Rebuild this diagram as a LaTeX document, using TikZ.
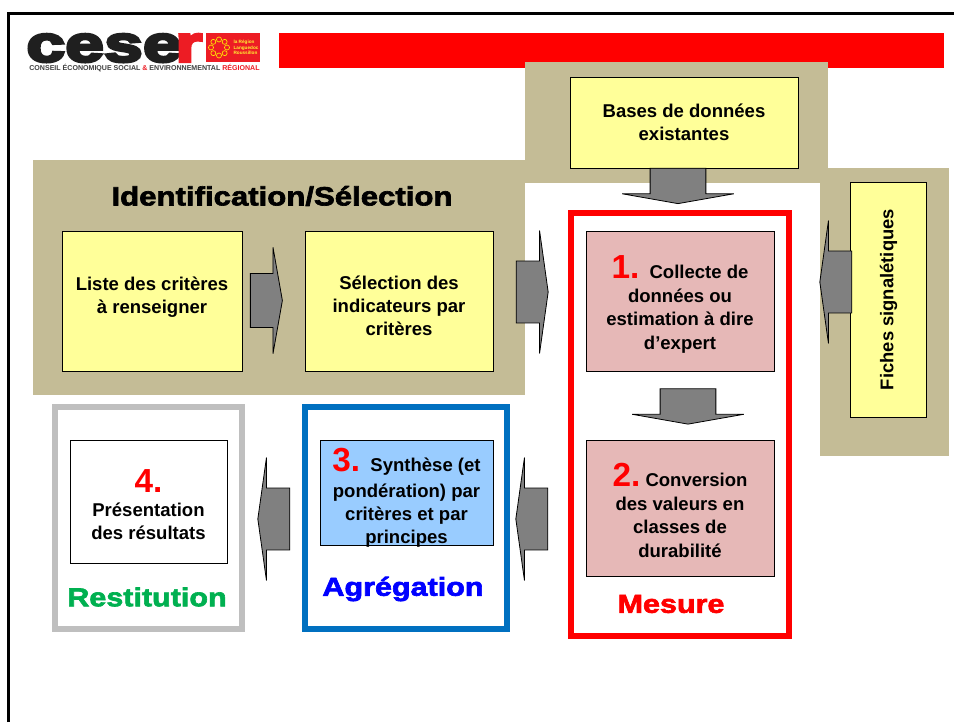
\documentclass[tikz,border=0pt]{standalone}
\usepackage{fontspec}
\setmainfont{Liberation Sans}
\newfontfamily\heavyfont[FakeBold=2.5,FakeStretch=1.18]{Liberation Sans Bold}
\newfontfamily\logofont[FakeBold=6,FakeStretch=1.38]{Liberation Sans Bold}
\usepackage{xcolor}
\usepackage{tikz}
\usetikzlibrary{shapes.arrows}
\definecolor{tan}{HTML}{C4BC96}
\definecolor{lightyellow}{HTML}{FFFF99}
\definecolor{pinkbox}{HTML}{E6B8B7}
\definecolor{bluebox}{HTML}{99CCFF}
\definecolor{framegrey}{HTML}{BFBFBF}
\definecolor{frameblue}{HTML}{0070C0}
\definecolor{titlegreen}{HTML}{00B050}
\definecolor{logored}{HTML}{ED1C24}

\newcommand{\bignum}[1]{{\fontsize{25}{25}\selectfont\bfseries\textcolor{red}{#1}}}
\newcommand{\topgap}[1]{\rule{0pt}{#1}}
\newcommand{\lowgap}[1]{\rule[-#1]{0pt}{#1}}

\begin{document}
\begin{tikzpicture}[x=.75pt,y=-.75pt]
\tikzset{bg/.style={fill=tan, inner sep=0pt},
box/.style={draw=black, line width=.75pt, align=center, inner sep=2pt, font=\fontsize{13.9}{17.3}\selectfont\bfseries, text=black},
yel/.style={box, fill=lightyellow},
pnk/.style={box, fill=pinkbox},
frm/.style={line width=4.5pt, inner sep=0pt},
ttl/.style={font=\heavyfont\fontsize{19.4}{20}\selectfont, inner sep=0pt},
arr/.style={single arrow, draw=black, line width=.6pt, fill=gray, inner xsep=0pt, inner ysep=22.9pt, minimum height=24pt, single arrow head extend=22.9pt, single arrow tip angle=164, anchor=center},
arrdown/.style={arr, shape border rotate=270, inner xsep=20.6pt, inner ysep=0pt, minimum height=26.5pt, single arrow head extend=21pt, single arrow tip angle=160}};
\useasboundingbox (0,0) rectangle (954,722);
\fill[white] (0,0) rectangle (954,722);
\draw[line width=2.25pt] (8,722) -- (8,13) -- (954,13);
\node [fill=red, inner sep=0pt, minimum width=498.75pt, minimum height=26.25pt] (redbar) at (611.5,50.5) {};
\node [bg, minimum width=227.25pt, minimum height=90.75pt] (topbg) at (676.5,122.5) {};
\node [bg, minimum width=369pt, minimum height=176.25pt] (mainbg) at (279,277.5) {};
\node [bg, minimum width=96.75pt, minimum height=216pt] (rightbg) at (884.5,312) {};
\node [inner sep=0pt, anchor=base west, font=\logofont\fontsize{38}{38}\selectfont, text=black!88] (logocese) at (26,61.5) {cese};
\node [inner sep=0pt, anchor=base west, font=\logofont\fontsize{38}{38}\selectfont, text=logored] (logor) at (175,61.5) {r};
\node [fill=logored, inner sep=0pt, minimum width=40.5pt, minimum height=21.75pt] (logoflag) at (233,47.5) {};
\foreach \a in {0,45,...,315} {
\draw[yellow!90!orange, line width=.5pt] (219,47.5) ++(\a:8) circle (2.5);
}
\node [inner sep=0pt, align=left, font=\fontsize{3.5}{4.1}\selectfont\bfseries, text=yellow!80!white] (logoregion) at (246,47.5) {la Région\\Languedoc\\Roussillon};
\node [inner sep=0pt, font=\fontsize{5.3}{6}\selectfont\bfseries, text=black!75] (logotxt) at (144.5,68) {CONSEIL ÉCONOMIQUE SOCIAL \textcolor{logored}{\&} ENVIRONNEMENTAL \textcolor{logored}{RÉGIONAL}};
\node [ttl, font=\heavyfont\fontsize{19.8}{20}\selectfont] (titleident) at (282,196) {Identification/Sélection};
\node [yel, minimum width=171pt, minimum height=68.25pt] (bases) at (684,122.5) {Bases de données\\existantes};
\node [yel, minimum width=135pt, minimum height=105pt] (liste) at (152,301) {Liste des critères\\\lowgap{9pt}à renseigner};
\node [yel, minimum width=141pt, minimum height=105pt] (selection) at (399,301) {\topgap{17pt}Sélection des\\indicateurs par\\critères};
\node [yel, minimum width=176.25pt, minimum height=57pt, rotate=90, font=\fontsize{13.8}{17}\selectfont\bfseries] (fiches) at (888.5,299.5) {Fiches signalétiques};
\node [frm, draw=red, minimum width=163.5pt, minimum height=317.25pt] (mesureframe) at (680,424.5) {};
\node [frm, draw=frameblue, minimum width=151.5pt, minimum height=166.5pt] (agregframe) at (406,518) {};
\node [frm, draw=framegrey, minimum width=140.25pt, minimum height=166.5pt] (restitframe) at (148.5,517.5) {};
\node [pnk, minimum width=141pt, minimum height=105pt] (collecte) at (680,301) {\topgap{22pt}\bignum{1.}\ \ Collecte de\\[1pt]données ou\\estimation à dire\\d’expert};
\node [pnk, minimum width=141pt, minimum height=102pt] (conversion) at (680,508) {\topgap{21pt}\bignum{2.}\ Conversion\\[.4pt]des valeurs en\\[.4pt]classes de\\[.4pt]durabilité};
\node [box, fill=bluebox, minimum width=129.75pt, minimum height=78.75pt] (synthese) at (406.5,492.5) {};
\node [box, draw=none] (synthesetxt) at (406.5,492.5) {\topgap{26pt}\bignum{3.}\ \ Synthèse (et\\[2pt]pondération) par\\critères et par\\principes};
\node [box, fill=white, minimum width=117.75pt, minimum height=92.25pt] (presentation) at (148.5,501.5) {\topgap{22pt}\bignum{4.}\\[1pt]Présentation\\des résultats};
\node [ttl, text=titlegreen] (restitution) at (147,597) {Restitution};
\node [ttl, text=blue] (agregation) at (403,589) {Agrégation};
\node [ttl, text=red] (mesure) at (671,604) {Mesure};
\node [arr, inner ysep=19.9pt, single arrow head extend=19.7pt, single arrow tip angle=160] (arrliste) at (264,300.5) {};
\node [arr] (arrselection) at (530,292) {};
\node [arrdown] (arrbases) at (678,183.5) {};
\node [arrdown] (arrcollecte) at (688,404) {};
\node [arr, shape border rotate=180] (arrfiches) at (838,282) {};
\node [arr, shape border rotate=180] (arrconversion) at (534,519) {};
\node [arr, shape border rotate=180] (arrsynthese) at (276,519) {};
\end{tikzpicture}
\end{document}
